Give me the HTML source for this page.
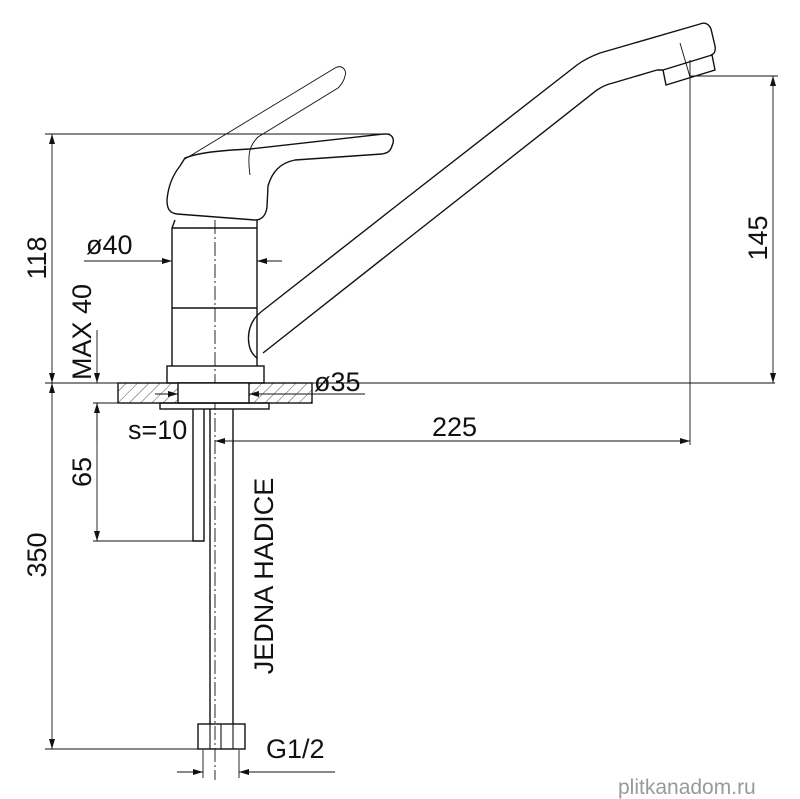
<!DOCTYPE html>
<html><head><meta charset="utf-8"><style>
html,body{margin:0;padding:0;background:#fff;}
svg{display:block}
text{font-family:"Liberation Sans",sans-serif;fill:#111;}
</style></head><body>
<svg width="800" height="799" viewBox="0 0 800 799" xmlns="http://www.w3.org/2000/svg">
<defs>
<pattern id="h" width="8" height="8" patternUnits="userSpaceOnUse" patternTransform="rotate(45)">
<line x1="0" y1="0" x2="0" y2="8" stroke="#222" stroke-width="0.8"/>
</pattern>
<marker id="a" viewBox="0 0 10 6" refX="10" refY="3" markerWidth="10" markerHeight="6" orient="auto-start-reverse" markerUnits="userSpaceOnUse">
<path d="M0,0 L10,3 L0,6 z" fill="#111"/>
</marker>
</defs>
<g fill="none" stroke="#111" stroke-width="1.1">
<g stroke-width="0.9">
<line x1="45" y1="134" x2="390" y2="134"/>
<line x1="45" y1="383" x2="775" y2="383"/>
<line x1="52" y1="134" x2="52" y2="383" marker-start="url(#a)" marker-end="url(#a)"/>
<line x1="52" y1="383" x2="52" y2="749" marker-start="url(#a)" marker-end="url(#a)"/>
<line x1="45" y1="749" x2="198" y2="749"/>
<line x1="97" y1="330" x2="97" y2="383" marker-end="url(#a)"/>
<line x1="97" y1="441" x2="97" y2="403" marker-end="url(#a)"/>
<line x1="97" y1="403" x2="97" y2="541" marker-end="url(#a)"/>
<line x1="93" y1="403" x2="268" y2="403"/>
<line x1="93" y1="541" x2="204" y2="541"/>
<line x1="84" y1="261" x2="172" y2="261" marker-end="url(#a)"/>
<line x1="282" y1="261" x2="257" y2="261" marker-end="url(#a)"/>
<line x1="155" y1="394" x2="178" y2="394" marker-end="url(#a)"/>
<line x1="365" y1="394" x2="249" y2="394" marker-end="url(#a)"/>
<line x1="690" y1="76" x2="778" y2="76"/>
<line x1="773" y1="76" x2="773" y2="383" marker-start="url(#a)" marker-end="url(#a)"/>
<line x1="690" y1="60" x2="690" y2="445"/>
<line x1="680" y1="43" x2="690" y2="77"/>
<line x1="215" y1="441" x2="690" y2="441" marker-start="url(#a)" marker-end="url(#a)"/>
<line x1="203" y1="750" x2="203" y2="778"/>
<line x1="239" y1="750" x2="239" y2="778"/>
<line x1="177" y1="772" x2="203" y2="772" marker-end="url(#a)"/>
<line x1="335" y1="772" x2="239" y2="772" marker-end="url(#a)"/>
<line x1="215" y1="220" x2="215" y2="780" stroke-dasharray="14,3,2,3"/>
</g>
<path d="M185,158 C195,154 210,151 250,149 L384,134 C393,133 395,140 392,146 C390,152 387,153 382,154 L295,160 C280,163 272,172 268,186 L267,207 C266,215 262,220 255,220 L177,214 C169,213 167,208 167,200 C168,188 172,176 180,166 Z" stroke-width="1.4"/>
<path d="M185,159 L335,68 C342,64 347,70 345,76 C344,81 341,85 338,88 L258,137 C250,145 247,153 250,175" stroke-width="0.9"/>
<path d="M175,220 L172,228 L172,366 M257,220 L257,228 L257,366" stroke-width="1.4"/>
<line x1="172" y1="228" x2="257" y2="228" stroke-width="1.4"/>
<line x1="172" y1="308" x2="257" y2="308" stroke-width="1.4"/>
<rect x="167" y="366" width="97" height="17" stroke-width="1.4"/>
<path d="M257,358 C246,350 246,330 255,318 C258,314 262,311 266,308 L400,203 L577,65 C585,59 592,56 600,53 L700,24 C705,22 709,24 711,29 L715,46 C716,51 714,54 711,55" stroke-width="1.4"/>
<path d="M263,353 L400,245 L597,90 C603,86 608,84 613,83 L657,70" stroke-width="1.4"/>
<path d="M657,70 L663,70 L666,85 L715,70 L712,55 L663,70" stroke-width="1.4"/>
<rect x="118" y="383" width="194" height="20" fill="url(#h)" stroke-width="1.4"/>
<rect x="178" y="383" width="71" height="20" fill="#fff" stroke-width="1.4"/>
<rect x="160" y="403" width="109" height="6" stroke-width="1.4"/>
<path d="M193,409 L193,541 L204,541 L204,409" stroke-width="1.4"/>
<line x1="210" y1="409" x2="210" y2="724" stroke-width="1.4"/>
<line x1="233" y1="409" x2="233" y2="724" stroke-width="1.4"/>
<rect x="198" y="724" width="47" height="25" stroke-width="1.4"/>
<line x1="210" y1="724" x2="210" y2="749"/>
<line x1="221" y1="724" x2="221" y2="749"/>
<line x1="233" y1="724" x2="233" y2="749"/>
</g>
<g font-size="27">
<text transform="translate(46,258) rotate(-90)" text-anchor="middle">118</text>
<text transform="translate(46,555) rotate(-90)" text-anchor="middle">350</text>
<text transform="translate(91,472) rotate(-90)" text-anchor="middle">65</text>
<text transform="translate(91,332) rotate(-90)" text-anchor="middle">MAX  40</text>
<text transform="translate(767,238) rotate(-90)" text-anchor="middle">145</text>
<text transform="translate(273,576) rotate(-90)" text-anchor="middle">JEDNA  HADICE</text>
<text x="86" y="254">ø40</text>
<text x="314" y="391">ø35</text>
<text x="128" y="439">s=10</text>
<text x="432" y="436">225</text>
<text x="266" y="758">G1/2</text>
</g>
<text x="618" y="794" font-size="21" style="fill:#999" font-family="Liberation Mono, monospace">plitkanadom.ru</text>
</svg>
</body></html>
